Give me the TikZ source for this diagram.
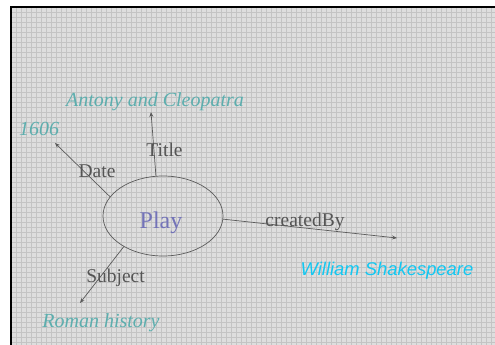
\documentclass[tikz,border=0pt]{standalone}
\usepackage{fontspec}
\setmainfont{Liberation Serif}
\newfontfamily\arialfont{Liberation Sans}
\usetikzlibrary{shapes.geometric,arrows.meta}
\definecolor{bggrey}{HTML}{DEDEDE}
\definecolor{gridgrey}{HTML}{C4C4C4}
\definecolor{valteal}{HTML}{5CAEAE}
\definecolor{playblue}{HTML}{7373B8}
\definecolor{edgegrey}{HTML}{5A5A5A}
\definecolor{labgrey}{HTML}{555555}
\definecolor{shakecyan}{HTML}{12C8F2}
\tikzset{
  gridline/.style={draw=gridgrey, line width=0.5pt},
  edge/.style={draw=edgegrey, line width=0.7pt, -{Stealth[length=5pt,width=4pt]}},
  elab/.style={text=labgrey, font=\fontsize{19.5}{22}\selectfont, anchor=base, inner sep=0pt},
  val/.style={text=valteal, font=\fontsize{20}{24}\selectfont\itshape, anchor=base, inner sep=0pt},
  classnode/.style={ellipse, draw=edgegrey, line width=0.7pt, minimum width=120pt, minimum height=80pt, inner sep=0pt}
}
\begin{document}
\begin{tikzpicture}[x=1pt,y=-1pt]
\useasboundingbox (0,0) rectangle (495,345);
\fill[white] (0,0) rectangle (495,345);
\fill[bggrey] (11,7) rectangle (495,345);
\foreach \i in {16,21,...,495} \draw[gridline] (\i,7) -- (\i,345);
\foreach \j in {12,17,...,345} \draw[gridline] (11,\j) -- (495,\j);
\draw[black, line width=1.4pt] (11,345) -- (11,7) -- (495,7);

\node[classnode] (play) at (163,216) {};
\node[anchor=base, inner sep=0pt, text=playblue, font=\fontsize{24}{28}\selectfont] (playtxt) at (161,228) {Play};

\coordinate (tTitle) at (151,112);
\coordinate (tDate) at (55,143);
\coordinate (tSubject) at (80,303);
\coordinate (tCreated) at (397,238);

\draw[edge] (play.100) -- (tTitle);
\draw[edge] (play.160) -- (tDate);
\draw[edge] (play.218) -- (tSubject);
\draw[edge] (play.-3) -- (tCreated);

\node[elab] (lTitle) at (164.5,156) {Title};
\node[elab] (lDate) at (97,177) {Date};
\node[elab] (lSubject) at (115.5,282) {Subject};
\node[elab] (lCreated) at (305,226) {createdBy};

\node[val] (vTitle) at (155,106) {Antony and Cleopatra};
\node[val] (vDate) at (39,135) {1606};
\node[val] (vSubject) at (101,327) {Roman history};
\node[anchor=base, inner sep=0pt, text=shakecyan, font=\arialfont\itshape\fontsize{18.4}{22}\selectfont] (vCreated) at (387,275) {William Shakespeare};
\end{tikzpicture}
\end{document}
